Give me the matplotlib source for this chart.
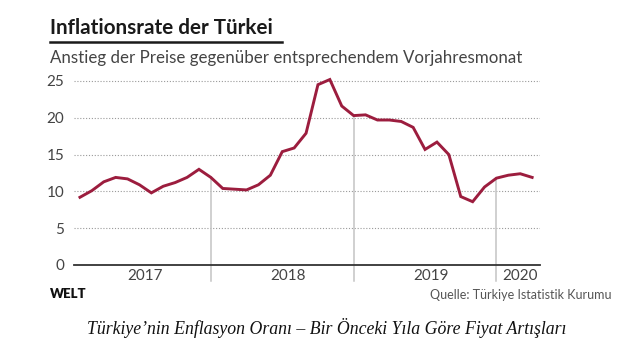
import matplotlib
matplotlib.use("Agg")
import matplotlib.pyplot as plt
import numpy as np

# Data: monthly Turkish CPI inflation (% y/y), Jan 2017 - Mar 2020
years = ["2017", "2018", "2019", "2020"]
months_per_year = [12, 12, 12, 3]
inflation = [
    9.2, 10.1, 11.3, 11.9, 11.7, 10.9, 9.8, 10.7, 11.2, 11.9, 13.0, 11.9,
    10.4, 10.3, 10.2, 10.9, 12.2, 15.4, 15.9, 17.9, 24.5, 25.2, 21.6, 20.3,
    20.4, 19.7, 19.7, 19.5, 18.7, 15.7, 16.7, 15.0, 9.3, 8.6, 10.6, 11.8,
    12.2, 12.4, 11.9,
]
yticks = [0, 5, 10, 15, 20, 25]

title = "Inflationsrate der Türkei"
subtitle = "Anstieg der Preise gegenüber entsprechendem Vorjahresmonat"
source = "Quelle: Türkiye Istatistik Kurumu"
brand = "WELT"
caption = "Türkiye’nin Enflasyon Oranı – Bir Önceki Yıla Göre Fiyat Artışları"

W, H = 640, 348
fig = plt.figure(figsize=(W / 100, H / 100), dpi=100)
fig.patch.set_facecolor("white")

def fx(px):
    return px / W

def fy(py):
    return 1 - py / H

# axes: x from -0.5 to 38.66 month index, y 0..26
left_px, right_px = 74, 540
bottom_px = 265
px_per_unit = 7.36
top_px = bottom_px - 26 * px_per_unit
ax = fig.add_axes([fx(left_px), fy(bottom_px), fx(right_px - left_px), (bottom_px - top_px) / H])
x = np.arange(len(inflation))
ax.set_xlim(-0.5, 38.66)
ax.set_ylim(0, 26)
for s in ax.spines.values():
    s.set_visible(False)
ax.set_xticks([])
ax.set_yticks(yticks)
ax.tick_params(axis="y", length=0, pad=7, labelsize=11, labelcolor="#444444")
for lab in ax.get_yticklabels():
    lab.set_fontfamily("Lato")

# grid dotted
for v in yticks[1:]:
    ax.axhline(v, color="#9a9a9a", lw=0.8, ls=(0, (1, 1.6)), zorder=1)
ax.axhline(0, color="#333333", lw=1.3, zorder=3, clip_on=False)

# year separators at December points, year labels
idx = 0
for i, (yr, n) in enumerate(zip(years, months_per_year)):
    center = idx + (n - 1) / 2
    ax.text(center, -1.45, yr, ha="center", va="center", fontsize=11,
            color="#444444", family="Lato")
    if i < len(years) - 1:
        d = idx + n - 1
        ax.plot([d, d], [inflation[d], -2.2], color="#c4c4c4", lw=1.1,
                zorder=2, clip_on=False)
    idx += n

ax.plot(x, inflation, color="#9c1d3e", lw=2.1, zorder=4, clip_on=False,
        solid_joinstyle="miter")

# texts
fig.text(fx(50), fy(34), title, fontsize=14.9, fontweight="bold", family="Lato",
         color="#1a1a1a", ha="left", va="baseline")
fig.add_artist(plt.Line2D([fx(50), fx(282)], [fy(42), fy(42)], color="#1a1a1a", lw=1.8))
fig.text(fx(50), fy(63), subtitle, fontsize=12.2, family="Lato", color="#444444",
         ha="left", va="baseline")
fig.text(fx(50), fy(294), brand, fontsize=9.5, fontweight="heavy", family="Lato",
         color="#111111", ha="left", va="center")
fig.text(fx(612), fy(295), source, fontsize=9, family="Lato", color="#555555",
         ha="right", va="center")
fig.text(fx(327), fy(328), caption, fontsize=12.8, family="Liberation Serif",
         style="italic", color="#111111", ha="center", va="center")

fig.savefig("out.png", dpi=100, facecolor="white")
